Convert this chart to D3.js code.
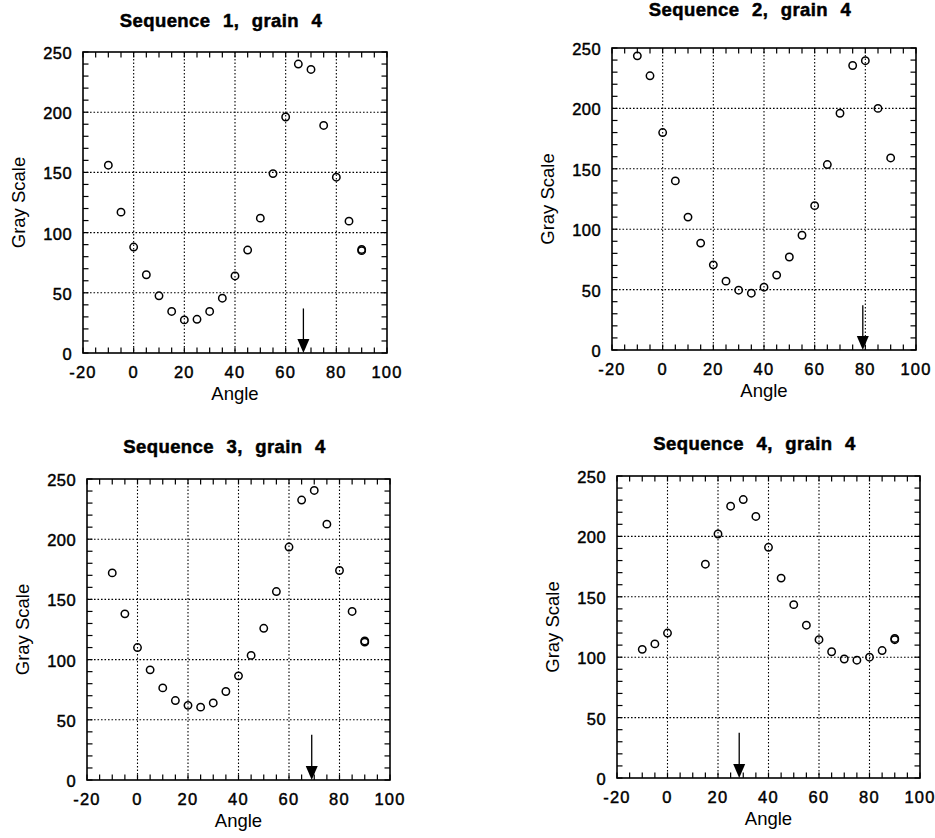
<!DOCTYPE html>
<html>
<head>
<meta charset="utf-8">
<script src="https://cdn.jsdelivr.net/npm/d3@7"></script>
<style>
  body { margin: 0; background: #fff; }
  svg { display: block; }
</style>
</head>
<body>
<script>
/* data: angle (deg) vs gray scale */
var titles = ["Sequence 1, grain 4", "Sequence 2, grain 4",
              "Sequence 3, grain 4", "Sequence 4, grain 4"];

var angles1 = [-10, -5, 0, 5, 10, 15, 20, 25, 30, 35, 40, 45, 50, 55, 60, 65, 70, 75, 80, 85, 90, 90];
var gray1   = [156, 117, 88, 65, 47.5, 34.5, 27.5, 28, 34.5, 45.5, 64, 85.5, 112, 149, 196, 240, 235.5, 189, 146, 109.5, 85, 86];

var angles2 = [-10, -5, 0, 5, 10, 15, 20, 25, 30, 35, 40, 45, 50, 55, 60, 65, 70, 75, 80, 85, 90];
var gray2   = [243.5, 227, 180, 140, 110, 88.5, 70.5, 57, 49.5, 47, 52, 62, 77, 95, 119.5, 153.5, 196, 235.5, 239.5, 200, 159];

var angles3 = [-10, -5, 0, 5, 10, 15, 20, 25, 30, 35, 40, 45, 50, 55, 60, 65, 70, 75, 80, 85, 90, 90];
var gray3   = [172, 138, 110, 91.5, 76.5, 66, 62, 60.5, 64, 73.5, 86.5, 103.5, 126, 156.5, 193.5, 232.5, 240.5, 212.5, 174, 140, 114.5, 115.5];

var angles4 = [-10, -5, 0, 15, 20, 25, 30, 35, 40, 45, 50, 55, 60, 65, 70, 75, 80, 85, 90, 90];
var gray4   = [106.5, 111, 120, 177, 202, 225, 230.5, 216.5, 191, 165.5, 143.5, 126.5, 114.5, 104.5, 98.5, 97.5, 100, 105.5, 114.5, 115.5];

/* arrow marks the angle of maximum, drawn from ~37 down to the axis */
var arrowAngle = [67, 79, 69, 28.4];
var arrowTop   = [37, 37, 37.5, 37.5];

var xTicks = [-20, 0, 20, 40, 60, 80, 100];
var yTicks = [0, 50, 100, 150, 200, 250];

var series = [
  {a: angles1, g: gray1},
  {a: angles2, g: gray2},
  {a: angles3, g: gray3},
  {a: angles4, g: gray4}
];

/* panel boxes in page pixels */
var panels = [
  {l: 83,  t: 52,  r: 387, b: 353, ty: 27},
  {l: 612, t: 48,  r: 916, b: 350, ty: 16},
  {l: 87,  t: 479, r: 390, b: 780, ty: 453},
  {l: 617, t: 476, r: 920, b: 778, ty: 450}
];

var font = "'Liberation Sans', Arial, Helvetica, sans-serif";

var svg = d3.select("body").append("svg")
    .attr("width", 935)
    .attr("height", 838);

panels.forEach(function (p, i) {
  var w = p.r - p.l, h = p.b - p.t;
  var x = d3.scaleLinear().domain([-20, 100]).range([0, w]);
  var y = d3.scaleLinear().domain([0, 250]).range([h, 0]);

  var g = svg.append("g").attr("transform", "translate(" + p.l + "," + p.t + ")");

  /* dotted grid */
  g.selectAll(".gx").data(xTicks.slice(1, -1)).enter().append("line")
      .attr("x1", x).attr("x2", x).attr("y1", 0).attr("y2", h)
      .attr("stroke", "#000").attr("stroke-width", 1.1)
      .attr("stroke-dasharray", "1.6,1.9");
  g.selectAll(".gy").data(yTicks.slice(1, -1)).enter().append("line")
      .attr("y1", y).attr("y2", y).attr("x1", 0).attr("x2", w)
      .attr("stroke", "#000").attr("stroke-width", 1.1)
      .attr("stroke-dasharray", "1.6,1.9");

  /* inward ticks on all four sides */
  var tl = 5.5;
  var mx = d3.range(-20, 100.1, 5), my = d3.range(0, 250.1, 10);
  g.selectAll(".tb").data(mx).enter().append("line")
      .attr("x1", x).attr("x2", x).attr("y1", h).attr("y2", h - tl)
      .attr("stroke", "#000").attr("stroke-width", 1.2);
  g.selectAll(".tt").data(mx).enter().append("line")
      .attr("x1", x).attr("x2", x).attr("y1", 0).attr("y2", tl)
      .attr("stroke", "#000").attr("stroke-width", 1.2);
  g.selectAll(".tl").data(my).enter().append("line")
      .attr("y1", y).attr("y2", y).attr("x1", 0).attr("x2", tl)
      .attr("stroke", "#000").attr("stroke-width", 1.2);
  g.selectAll(".tr").data(my).enter().append("line")
      .attr("y1", y).attr("y2", y).attr("x1", w).attr("x2", w - tl)
      .attr("stroke", "#000").attr("stroke-width", 1.2);

  /* frame */
  g.append("rect")
      .attr("width", w).attr("height", h)
      .attr("fill", "none").attr("stroke", "#000").attr("stroke-width", 1.6);

  /* tick labels */
  g.selectAll(".xl").data(xTicks).enter().append("text")
      .attr("x", x).attr("y", h + 25)
      .attr("text-anchor", "middle")
      .style("font-family", font).style("font-size", "16.5px")
      .style("letter-spacing", "1.2px")
      .attr("stroke", "#000").attr("stroke-width", 0.45)
      .text(function (d) { return d; });
  g.selectAll(".yl").data(yTicks).enter().append("text")
      .attr("x", -11).attr("y", function (d) { return y(d) + 7; })
      .attr("text-anchor", "end")
      .style("font-family", font).style("font-size", "16.5px")
      .style("letter-spacing", "0.4px")
      .attr("stroke", "#000").attr("stroke-width", 0.45)
      .text(function (d) { return d; });

  /* axis titles */
  g.append("text")
      .attr("x", w / 2).attr("y", h + 47)
      .attr("text-anchor", "middle")
      .style("font-family", font).style("font-size", "18.5px")
      .text("Angle");
  g.append("text")
      .attr("transform", "translate(-58," + (h / 2) + ") rotate(-90)")
      .attr("text-anchor", "middle")
      .style("font-family", font).style("font-size", "18.5px")
      .text("Gray Scale");

  /* panel title */
  svg.append("text")
      .attr("x", (p.l + p.r) / 2 - 14).attr("y", p.ty)
      .attr("text-anchor", "middle")
      .style("font-family", font).style("font-size", "18.5px")
      .style("font-weight", "bold").style("letter-spacing", "0.4px")
      .style("word-spacing", "7px")
      .attr("stroke", "#000").attr("stroke-width", 0.5)
      .text(titles[i]);

  /* points */
  var s = series[i];
  g.selectAll(".pt").data(d3.range(s.a.length)).enter().append("circle")
      .attr("cx", function (k) { return x(s.a[k]); })
      .attr("cy", function (k) { return y(s.g[k]); })
      .attr("r", 3.7)
      .attr("fill", "none").attr("stroke", "#000").attr("stroke-width", 1.5);

  /* arrow */
  var ax = x(arrowAngle[i]);
  g.append("line")
      .attr("x1", ax).attr("x2", ax)
      .attr("y1", y(arrowTop[i])).attr("y2", h - 12)
      .attr("stroke", "#000").attr("stroke-width", 1.3);
  g.append("path")
      .attr("d", "M" + (ax - 6) + "," + (h - 14) + "L" + (ax + 6) + "," + (h - 14) + "L" + ax + "," + h + "Z")
      .attr("fill", "#000");
});
</script>
</body>
</html>
